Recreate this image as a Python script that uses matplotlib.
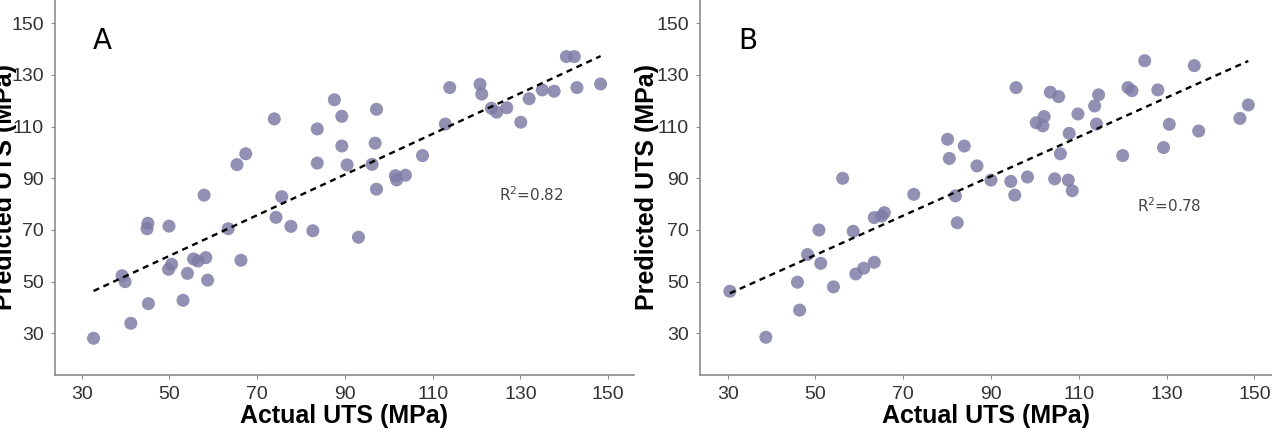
import matplotlib
matplotlib.use("Agg")
import matplotlib.pyplot as plt

# panel A: actual vs predicted UTS (MPa)
actual_a = [32.7, 39.2, 39.9, 41.2, 45.1, 44.9, 45.2, 49.9, 49.8, 50.5,
            53.1, 54.1, 55.5, 56.5, 58.3, 58.7, 57.9, 63.4, 65.4, 66.3,
            67.4, 73.9, 74.3, 75.6, 77.7, 82.7, 83.7, 83.7, 87.6, 89.3,
            89.3, 90.5, 93.1, 96.2, 96.9, 97.2, 97.2, 101.5, 101.8, 103.8,
            107.7, 112.9, 113.9, 120.8, 121.2, 123.4, 124.6, 126.9, 130.1, 132.0,
            135.0, 137.7, 140.5, 142.3, 142.9, 148.3]
pred_a = [28.1, 52.3, 50.0, 33.9, 72.6, 70.5, 41.5, 71.5, 54.8, 56.7,
          42.8, 53.2, 58.8, 58.0, 59.3, 50.6, 83.5, 70.5, 95.3, 58.3,
          99.5, 113.0, 74.9, 82.9, 71.4, 69.7, 109.1, 95.9, 120.4, 114.0,
          102.5, 95.2, 67.2, 95.4, 103.6, 116.7, 85.8, 91.0, 89.4, 91.2,
          98.8, 111.0, 125.1, 126.4, 122.6, 117.1, 115.6, 117.3, 111.7, 120.8,
          124.2, 123.7, 137.1, 137.1, 125.1, 126.5]
fit_x_a = [32.7, 148.3]
fit_y_a = [46.4, 137.3]

# panel B
actual_b = [30.5, 38.7, 46.4, 45.9, 48.2, 50.8, 51.2, 54.1, 56.2, 58.6,
            59.2, 61.0, 63.4, 63.4, 65.1, 65.7, 72.4, 80.1, 80.5, 81.9,
            82.3, 83.9, 86.8, 90.0, 94.5, 95.4, 95.7, 98.3, 100.3, 101.8,
            102.1, 103.5, 104.5, 105.4, 105.8, 107.6, 107.8, 108.5, 109.8, 113.6,
            114.0, 114.5, 120.0, 121.2, 122.1, 125.0, 128.0, 129.3, 130.6, 136.3,
            137.3, 146.7, 148.6]
pred_b = [46.3, 28.5, 39.0, 49.8, 60.5, 70.0, 57.1, 48.0, 90.0, 69.5,
          53.0, 55.2, 57.5, 74.8, 75.4, 76.7, 83.8, 105.1, 97.7, 83.2,
          72.8, 102.5, 94.8, 89.3, 88.8, 83.5, 125.1, 90.5, 111.5, 110.3,
          113.9, 123.3, 89.8, 121.6, 99.5, 89.3, 107.4, 85.2, 114.9, 118.0,
          111.0, 122.3, 98.8, 125.1, 123.9, 135.5, 124.2, 101.9, 110.9, 133.6,
          108.3, 113.2, 118.4]
fit_x_b = [30.5, 148.6]
fit_y_b = [45.5, 135.4]

ticks = [30, 50, 70, 90, 110, 130, 150]

fig = plt.figure(figsize=(12.72, 4.32), dpi=100)
ax_a = fig.add_axes([0.0432, 0.132, 0.4552, 0.868])
ax_b = fig.add_axes([0.5503, 0.132, 0.4497, 0.868])

panels = [
    (ax_a, actual_a, pred_a, fit_x_a, fit_y_a, "A", "R$^2$=0.82", (132.6, 83.5), (23.9, 155.9), -0.066),
    (ax_b, actual_b, pred_b, fit_x_b, fit_y_b, "B", "R$^2$=0.78", (130.5, 79.5), (23.7, 154.0), -0.072),
]

for ax, xs, ys, fx, fy, tag, r2, r2pos, xlim, ylab_x in panels:
    ax.scatter(xs, ys, s=88, color="#7f7da6", alpha=0.85, edgecolors="none", zorder=2)
    ax.plot(fx, fy, color="black", lw=1.7, linestyle=(0, (2.6, 2.0)), zorder=3)
    ax.text(34.7, 143.3, tag, fontsize=20, color="black", ha="center", va="center")
    ax.text(r2pos[0], r2pos[1], r2, fontsize=11, color="#444444", ha="center", va="center")

    ax.set_xlim(*xlim)
    ax.set_ylim(13.9, 159)
    ax.set_xticks(ticks)
    ax.set_yticks(ticks)
    for side in ["top", "right"]:
        ax.spines[side].set_visible(False)
    for side in ["left", "bottom"]:
        ax.spines[side].set_color("#8c8c8c")
        ax.spines[side].set_linewidth(1.2)
    ax.tick_params(length=3, width=0.8, color="#8c8c8c", pad=5,
                   labelsize=14, labelcolor="#333333")
    for lab in ax.get_xticklabels() + ax.get_yticklabels():
        lab.set_family("Liberation Sans")

    ax.set_xlabel("Actual UTS (MPa)", fontsize=18, fontweight="bold",
                  family="Liberation Sans", labelpad=1)
    ax.set_ylabel("Predicted UTS (MPa)", fontsize=18, fontweight="bold",
                  family="Liberation Sans")
    ax.yaxis.set_label_coords(ylab_x, 0.5)

fig.savefig("out.png", dpi=100)
